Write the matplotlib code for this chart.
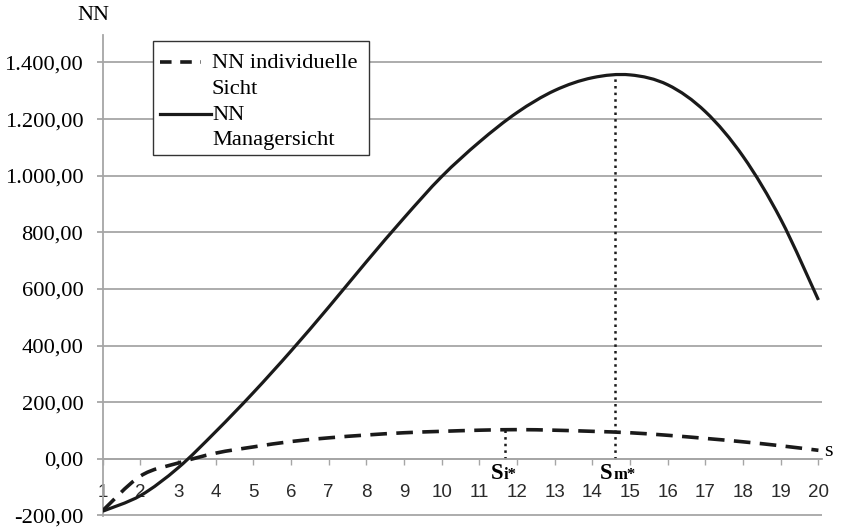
import matplotlib.pyplot as plt
from matplotlib.lines import Line2D
from matplotlib.patches import Rectangle, PathPatch
from matplotlib.path import Path

plt.rcParams['font.family'] = ['Liberation Serif', 'DejaVu Serif']

# data
s = list(range(1, 21))
nn_individuell = [-183, -61, -15, 20, 42, 61, 74, 84, 92, 97,
                  101, 103, 101, 97, 92, 83, 72, 60, 46, 30]
nn_manager = [-185, -130, -32, 96, 234, 381, 536, 696, 851, 997,
              1119, 1223, 1301, 1346, 1356, 1321, 1226, 1068, 846, 561]
y_ticks = [-200, 0, 200, 400, 600, 800, 1000, 1200, 1400]
s_i, s_i_max = 11.67, 103
s_m, s_m_max = 14.6, 1360


def smooth_path(xs, ys):
    # Excel-like smoothed line: Catmull-Rom segments as cubic Bezier curves
    pts = list(zip(xs, ys))
    n = len(pts)
    verts = [pts[0]]
    codes = [Path.MOVETO]
    for i in range(n - 1):
        p0 = pts[max(i - 1, 0)]
        p1 = pts[i]
        p2 = pts[i + 1]
        p3 = pts[min(i + 2, n - 1)]
        c1 = (p1[0] + (p2[0] - p0[0]) / 6, p1[1] + (p2[1] - p0[1]) / 6)
        c2 = (p2[0] - (p3[0] - p1[0]) / 6, p2[1] - (p3[1] - p1[1]) / 6)
        verts += [c1, c2, p2]
        codes += [Path.CURVE4] * 3
    return Path(verts, codes)


fig = plt.figure(figsize=(8.54, 5.29), dpi=100)
ax = fig.add_axes([0.1203, 0.0246, 0.842, 0.9093])

grid_col = '#a6a6a6'
line_col = '#1a1a1a'

ax.add_patch(PathPatch(smooth_path(s, nn_manager), fill=False, edgecolor=line_col,
                       lw=2.3, zorder=3))
ax.add_patch(PathPatch(smooth_path(s, nn_individuell), fill=False, edgecolor=line_col,
                       lw=2.6, linestyle=(0, (4.6, 2.6)), zorder=3))

# dotted markers for the optima
ax.plot([s_i, s_i], [0, s_i_max], color=line_col, lw=1.8, linestyle=':', zorder=2)
ax.plot([s_m, s_m], [0, s_m_max], color=line_col, lw=1.8, linestyle=':', zorder=2)

ax.set_xlim(1, 20.09)
ax.set_ylim(-202, 1497)

for v in y_ticks:
    ax.axhline(v, color=grid_col, lw=1.3, zorder=1)

ax.set_yticks(y_ticks)
ax.set_yticklabels(['{:,.2f}'.format(v).replace(',', 'X').replace('.', ',').replace('X', '.')
                    for v in y_ticks])
ax.set_xticks(s)
ax.set_xticklabels([str(v) for v in s])

for side in ['top', 'right']:
    ax.spines[side].set_visible(False)
ax.spines['bottom'].set_position(('data', 0))
ax.spines['bottom'].set_color(grid_col)
ax.spines['bottom'].set_linewidth(1.3)
ax.spines['left'].set_color(grid_col)
ax.spines['left'].set_linewidth(1.3)

ax.tick_params(axis='y', direction='out', length=4, width=1.3, color=grid_col, pad=10,
               labelsize=16.2)
ax.tick_params(axis='x', direction='out', length=4, width=1.0, color=grid_col, pad=14,
               labelsize=13.5, labelcolor='#2a2a2a', labelfontfamily='Liberation Sans')

# optimum labels: S with bold subscript
ax.text(11.47, -73, 'S', fontsize=16.4, fontweight='bold', ha='center', va='baseline')
ax.text(11.63, -73, 'i*', fontsize=12, fontweight='bold', ha='left', va='baseline')
ax.text(14.37, -73, 'S', fontsize=16.4, fontweight='bold', ha='center', va='baseline')
ax.text(14.55, -73, 'm*', fontsize=12, fontweight='bold', ha='left', va='baseline')

fig.text(828 / 854, 1 - 452 / 529, 's', fontsize=16, ha='center', va='center')
fig.text(93 / 854, 1 - 16 / 529, 'NN', fontsize=16, ha='center', va='center')

# legend box drawn like the original (handles aligned with first text line)
fig.patches.append(Rectangle((153 / 854, 1 - 155 / 529), 216 / 854, 114 / 529,
                             transform=fig.transFigure, facecolor='white',
                             edgecolor='#333333', lw=1.0, zorder=5))
fig.lines.append(Line2D([160 / 854, 201 / 854], [1 - 62 / 529] * 2, transform=fig.transFigure,
                        color=line_col, lw=2.6, dashes=(3.2, 2.4), zorder=6))
fig.lines.append(Line2D([160 / 854, 211 / 854], [1 - 114 / 529] * 2, transform=fig.transFigure,
                        color=line_col, lw=2.3, zorder=6))
for txt, y in [('NN individuelle', 63), ('Sicht', 89), ('NN', 115), ('Managersicht', 141)]:
    fig.text(212 / 854, 1 - y / 529, txt, fontsize=16.2, ha='left', va='center', zorder=7)

fig.savefig('out.png', dpi=100)
